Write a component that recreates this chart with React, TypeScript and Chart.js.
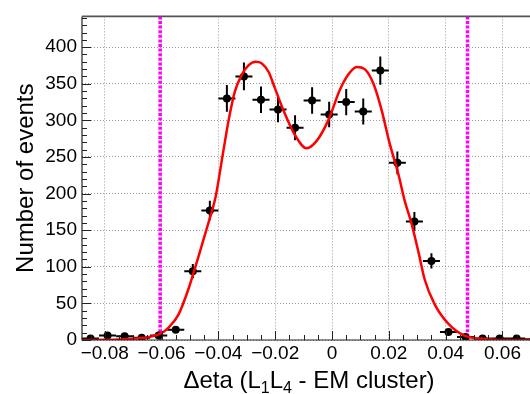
import React, { useEffect, useRef } from "react";
import { Chart, registerables } from "chart.js";

Chart.register(...registerables);

// Histogram bins (Δeta bin centres), counts and statistical errors
const binCenters = [
  -0.085, -0.079, -0.073, -0.067, -0.061, -0.055, -0.049, -0.043, -0.037,
  -0.031, -0.025, -0.019, -0.013, -0.007, -0.001, 0.005, 0.011, 0.017, 0.023,
  0.029, 0.035, 0.041, 0.047, 0.053, 0.059, 0.065, 0.071,
];
const counts = [
  2, 6, 5, 3, 6, 14, 94, 177, 330, 360, 328, 315, 290, 327, 308, 325, 312,
  368, 242, 162, 108, 11, 4, 2, 2, 2, 1,
];
const countErrors = [
  1.4, 2.4, 2.2, 1.7, 2.4, 3.7, 9.7, 13.3, 18.2, 19.0, 18.1, 17.7, 17.0, 18.1,
  17.5, 18.0, 17.7, 19.2, 15.6, 12.7, 10.4, 3.3, 2.0, 1.4, 1.4, 1.4, 1.0,
];
const binHalfWidth = 0.003;

// Fit curve
const fitX = [
  -0.088, -0.08, -0.075, -0.0694, -0.0645, -0.0603, -0.0575, -0.054, -0.0505,
  -0.047, -0.0435, -0.041, -0.0388, -0.0364, -0.0343, -0.0318, -0.0294,
  -0.0269, -0.0248, -0.0223, -0.0202, -0.0167, -0.0132, -0.009, -0.0054,
  -0.0012, 0.0027, 0.0058, 0.0087, 0.0115, 0.0146, 0.0174, 0.0202, 0.0234,
  0.0256, 0.028, 0.0305, 0.0326, 0.0361, 0.041, 0.0466, 0.052, 0.0572, 0.065,
  0.08,
];
const fitY = [
  0, 0.3, 0.8, 2, 4, 9, 17, 35, 70, 114, 160, 195, 245, 300, 338, 362, 375,
  380, 378, 366, 345, 310, 281, 262, 272, 301, 341, 363, 373, 370, 350, 315,
  270, 226, 190, 159, 119, 83, 49, 22, 6, 2, 0.5, 0, 0,
];

// Selection cut lines
const cutLines = [-0.0605, 0.0477];

const xTicks = [-0.08, -0.06, -0.04, -0.02, 0, 0.02, 0.04, 0.06, 0.08];
const yTicks = [0, 50, 100, 150, 200, 250, 300, 350, 400];

const FONT = '"Liberation Sans", Arial, Helvetica, sans-serif';

const fmtX = (v: number) => {
  if (Math.abs(v) < 1e-9) return "0";
  return (v < 0 ? "\u2212" : "") + Math.abs(v).toFixed(2);
};

const decorPlugin = {
  id: "decor",
  beforeDatasetsDraw(chart: any) {
    const { ctx, chartArea: a, scales } = chart;
    const xs = scales.x;
    const ys = scales.y;
    ctx.save();
    ctx.beginPath();
    ctx.rect(a.left, a.top, a.right - a.left, a.bottom - a.top);
    ctx.clip();
    // cut lines
    ctx.strokeStyle = "#ff00ff";
    ctx.lineWidth = 3.5;
    ctx.setLineDash([3, 1.6]);
    cutLines.forEach((c) => {
      const px = xs.getPixelForValue(c);
      ctx.beginPath();
      ctx.moveTo(px, a.top);
      ctx.lineTo(px, a.bottom);
      ctx.stroke();
    });
    ctx.setLineDash([]);
    // error bars
    ctx.strokeStyle = "#000";
    ctx.lineWidth = 2;
    binCenters.forEach((c, i) => {
      const px = xs.getPixelForValue(c);
      const py = ys.getPixelForValue(counts[i]);
      ctx.beginPath();
      ctx.moveTo(xs.getPixelForValue(c - binHalfWidth), py);
      ctx.lineTo(xs.getPixelForValue(c + binHalfWidth), py);
      ctx.moveTo(px, ys.getPixelForValue(counts[i] - countErrors[i]));
      ctx.lineTo(px, ys.getPixelForValue(counts[i] + countErrors[i]));
      ctx.stroke();
    });
    ctx.restore();
  },
  afterDraw(chart: any) {
    const { ctx, chartArea: a, scales } = chart;
    const xs = scales.x;
    const ys = scales.y;
    ctx.save();
    // frame
    ctx.strokeStyle = "#222";
    ctx.lineWidth = 1.2;
    ctx.beginPath();
    ctx.moveTo(a.left, a.top);
    ctx.lineTo(a.left, a.bottom);
    ctx.lineTo(a.right, a.bottom);
    ctx.stroke();
    ctx.strokeStyle = "#555";
    ctx.lineWidth = 1.6;
    ctx.beginPath();
    ctx.moveTo(a.left, a.top);
    ctx.lineTo(a.right, a.top);
    ctx.stroke();
    // y ticks (inside)
    ctx.strokeStyle = "#222";
    ctx.lineWidth = 1;
    for (let v = 0; v <= ys.max; v += 10) {
      const py = Math.round(ys.getPixelForValue(v)) + 0.5;
      const len = v % 50 === 0 ? 9 : 5;
      ctx.beginPath();
      ctx.moveTo(a.left, py);
      ctx.lineTo(a.left + len, py);
      ctx.stroke();
    }
    // x ticks (inside)
    for (let k = -17; k <= 17; k++) {
      const v = k * 0.005;
      if (v < xs.min - 1e-9 || v > xs.max + 1e-9) continue;
      const px = Math.round(xs.getPixelForValue(v)) + 0.5;
      const len = k % 4 === 0 ? 9 : 5;
      ctx.beginPath();
      ctx.moveTo(px, a.bottom);
      ctx.lineTo(px, a.bottom - len);
      ctx.stroke();
    }
    // y title
    ctx.fillStyle = "#000";
    ctx.font = `24px ${FONT}`;
    ctx.textAlign = "center";
    ctx.textBaseline = "alphabetic";
    ctx.save();
    ctx.translate(33, (a.top + a.bottom) / 2);
    ctx.rotate(-Math.PI / 2);
    ctx.fillText("Number of events", 0, 0);
    ctx.restore();
    // x title with subscripts
    const parts: [string, boolean][] = [
      ["\u0394eta (L", false],
      ["1", true],
      ["L", false],
      ["4", true],
      [" - EM cluster)", false],
    ];
    const big = `24px ${FONT}`;
    const small = `16px ${FONT}`;
    let total = 0;
    parts.forEach(([t, sub]) => {
      ctx.font = sub ? small : big;
      total += ctx.measureText(t).width;
    });
    let x = 309 - total / 2;
    const base = 388;
    ctx.textAlign = "left";
    parts.forEach(([t, sub]) => {
      ctx.font = sub ? small : big;
      ctx.fillText(t, x, sub ? base + 5 : base);
      x += ctx.measureText(t).width;
    });
    ctx.restore();
  },
};

export default function App() {
  const ref = useRef<HTMLCanvasElement | null>(null);

  useEffect(() => {
    if (!ref.current) return;
    const chart = new Chart(ref.current, {
      type: "scatter",
      data: {
        datasets: [
          {
            type: "line",
            label: "fit",
            data: fitX.map((x, i) => ({ x, y: fitY[i] })),
            borderColor: "#ff0000",
            borderWidth: 2.5,
            pointRadius: 0,
            fill: false,
            cubicInterpolationMode: "monotone",
          } as any,
          {
            label: "data",
            data: binCenters.map((x, i) => ({ x, y: counts[i] })),
            backgroundColor: "#000",
            borderWidth: 0,
            pointRadius: 4,
            showLine: false,
          },
        ],
      },
      options: {
        responsive: false,
        animation: false,
        events: [],
        layout: { padding: { top: 8, right: 18, left: 0, bottom: 0 } },
        plugins: {
          legend: { display: false },
          tooltip: { enabled: false },
          title: { display: false },
        },
        scales: {
          x: {
            type: "linear",
            min: -0.088,
            max: 0.088,
            afterBuildTicks: (s: any) => {
              s.ticks = xTicks.map((v) => ({ value: v }));
            },
            afterFit: (s: any) => {
              s.height = 54;
            },
            ticks: {
              color: "#000",
              font: { size: 19, family: FONT },
              padding: 2,
              maxRotation: 0,
              autoSkip: false,
              callback: (v: any) => fmtX(Number(v)),
            },
            grid: { color: "#9a9a9a", lineWidth: 1, drawTicks: false },
            border: { display: false, dash: [1, 2] },
          },
          y: {
            type: "linear",
            min: 0,
            max: 442,
            afterBuildTicks: (s: any) => {
              s.ticks = yTicks.map((v) => ({ value: v }));
            },
            afterFit: (s: any) => {
              s.width = 82;
            },
            ticks: {
              color: "#000",
              font: { size: 19, family: FONT },
              padding: 5,
              autoSkip: false,
            },
            grid: { color: "#9a9a9a", lineWidth: 1, drawTicks: false },
            border: { display: false, dash: [1, 2] },
          },
        },
      },
      plugins: [decorPlugin],
    });
    return () => chart.destroy();
  }, []);

  return (
    <div
      style={{
        position: "fixed",
        left: 0,
        top: 0,
        width: 530,
        height: 394,
        overflow: "hidden",
        background: "#fff",
      }}
    >
      <canvas ref={ref} width={600} height={394} style={{ display: "block" }} />
    </div>
  );
}
